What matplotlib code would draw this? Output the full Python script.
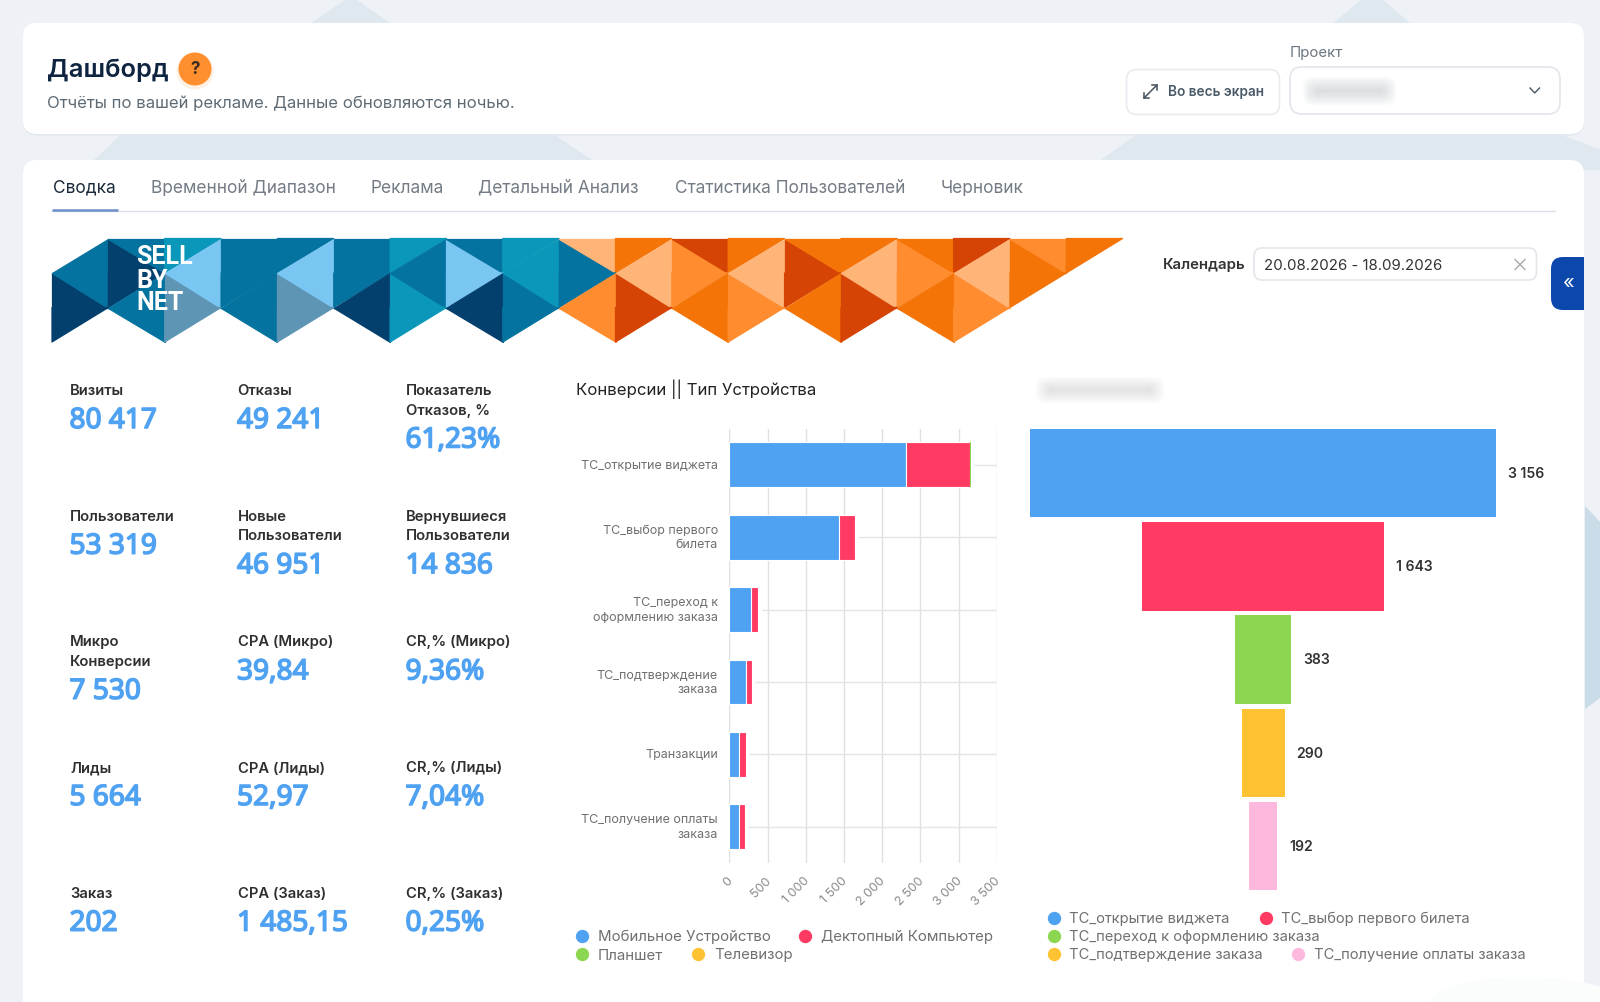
import numpy as np
import matplotlib
matplotlib.use("Agg")
import matplotlib.pyplot as plt
import matplotlib.patheffects as pe
from matplotlib.patches import Circle, Ellipse, FancyBboxPatch, Polygon, Rectangle
from matplotlib.transforms import ScaledTranslation

plt.rcParams['font.family'] = ['Inter', 'Noto Sans', 'DejaVu Sans']

# data
kpi_labels = [
    ["Визиты", "Отказы", "Показатель\nОтказов, %"],
    ["Пользователи", "Новые\nПользователи", "Вернувшиеся\nПользователи"],
    ["Микро\nКонверсии", "CPA (Микро)", "CR,% (Микро)"],
    ["Лиды", "CPA (Лиды)", "CR,% (Лиды)"],
    ["Заказ", "CPA (Заказ)", "CR,% (Заказ)"],
]
kpi_values = [
    ["80 417", "49 241", "61,23%"],
    ["53 319", "46 951", "14 836"],
    ["7 530", "39,84", "9,36%"],
    ["5 664", "52,97", "7,04%"],
    ["202", "1 485,15", "0,25%"],
]
tabs = ["Сводка", "Временной Диапазон", "Реклама", "Детальный Анализ",
        "Статистика Пользователей", "Черновик"]

stages = ["ТС_открытие виджета", "ТС_выбор первого\nбилета", "ТС_переход к\nоформлению заказа",
          "ТС_подтверждение\nзаказа", "Транзакции", "ТС_получение оплаты\nзаказа"]
mobile = [2310, 1431, 288, 214, 127, 127]
desktop = [840, 209, 93, 84, 87, 73]
tablet = [16, 3, 1, 1, 0, 0]
tv = [1, 0, 0, 0, 0, 0]
x_ticks = [0, 500, 1000, 1500, 2000, 2500, 3000, 3500]
x_tick_labels = ["0", "500", "1 000", "1 500", "2 000", "2 500", "3 000", "3 500"]
device_names = ["Мобильное Устройство", "Дектопный Компьютер", "Планшет", "Телевизор"]

funnel_values = [3156, 1643, 383, 290, 192]
funnel_labels = ["3 156", "1 643", "383", "290", "192"]
funnel_names = ["ТС_открытие виджета", "ТС_выбор первого билета", "ТС_переход к оформлению заказа",
                "ТС_подтверждение заказа", "ТС_получение оплаты заказа"]

BLUE = "#4FA1F1"
RED = "#FF3B63"
GREEN = "#8DD651"
YELLOW = "#FFC233"
PINK = "#FDB8DE"
funnel_colors = [BLUE, RED, GREEN, YELLOW, PINK]

# banner: two triangle colours per lattice cell, one list per row
banner_rows = [
    [".M", "DM", "TL", "MM", "ML", "MM", "TM", "LM", "TT", "Mp", "Op", "AR", "Op", "RO", "Op", "AO", "Rp", "OA", "O."],
    ["DM", "DM", "GL", "MM", "GL", "MD", "TM", "LD", "MT", "MA", "Rp", "AO", "Ap", "RO", "Rp", "AO", "Ap", "O.", ".."],
    ["D.", ".M", "G.", ".M", "G.", ".D", "T.", ".D", "M.", ".A", "R.", ".O", "A.", ".O", "R.", ".O", "A.", "..", ".."],
]
banner_colors = {"M": "#05739F", "D": "#03406E", "T": "#0A97B9", "L": "#7AC6F3", "G": "#5E95B5",
                 "O": "#F47407", "p": "#FFB478", "A": "#FF8C2E", "R": "#D54405"}

W, H = 1600, 1002
fig = plt.figure(figsize=(W / 100, H / 100), dpi=100, facecolor="#EEF2F7")
ui = fig.add_axes([0, 0, 1, 1])
ui.set_xlim(0, W)
ui.set_ylim(H, 0)
ui.axis("off")


def txt(x, y, s, px, color="#333333", weight="normal", ha="left", va="center", **kw):
    return ui.text(x, y, s, fontsize=px * 0.72, color=color, fontweight=weight, ha=ha, va=va, **kw)


def box(x0, y0, x1, y1, r, fc="white", ec="none", lw=1.0, z=1, alpha=None):
    p = FancyBboxPatch((x0, y0), x1 - x0, y1 - y0, boxstyle=f"round,pad=0,rounding_size={r}",
                       fc=fc, ec=ec, lw=lw, zorder=z, alpha=alpha)
    ui.add_patch(p)
    return p


def px_axes(x0, y0, x1, y1):
    a = fig.add_axes([x0 / W, 1 - y1 / H, (x1 - x0) / W, (y1 - y0) / H])
    a.patch.set_alpha(0)
    return a


def blur(x0, y0, x1, y1, color):
    # soft smudge for the hidden names
    for i in range(12):
        grow = 8 - i * 1.3
        box(x0 - grow, y0 - grow, x1 + grow, y1 + grow, 9, fc=color, z=3, alpha=0.09)


# background shapes
bg_shape = "#DFE7EF"
ui.add_patch(Polygon([(345, 0), (311, 23), (390, 23), (357, 0)], fc=bg_shape, zorder=0))
ui.add_patch(Polygon([(122, 134), (94, 160), (592, 160), (553, 134)], fc=bg_shape, zorder=0))
ui.add_patch(Polygon([(1361, 0), (1333, 23), (1410, 23), (1383, 0)], fc=bg_shape, zorder=0))
ui.add_patch(Polygon([(1137, 134), (1101, 160), (1600, 170), (1600, 150), (1560, 134)], fc=bg_shape, zorder=0))
ui.add_patch(Polygon([(1585, 506), (1600, 522), (1600, 698), (1585, 709)], fc="#CADCE7", zorder=0))

# cards
for y0, y1 in [(23, 134), (160, 1040)]:
    box(23, y0 + 1.5, 1584, y1 + 1.5, 14, fc="#E3E8EE", z=0.5)
    box(23, y0, 1584, y1, 14, z=1)
ui.add_patch(Ellipse((1525, 1002), 190, 50, fc="#FBFCFC", ec="none", zorder=1.5))

# header
txt(46.5, 70.5, "Дашборд", 25.5, color="#0F2440", weight="semibold")
ui.add_patch(Circle((195, 71), 18.5, fc="#FFE3CB", ec="none", alpha=0.5, zorder=2))
ui.add_patch(Circle((195, 69), 16.5, fc="#FF8F2F", ec="none", zorder=2))
txt(195, 69.5, "?", 17, color="#3A2A20", weight="bold", ha="center", zorder=3)
txt(47, 103, "Отчёты по вашей рекламе. Данные обновляются ночью.", 16.75, color="#5E6B75")

# full screen button and project select
box(1126.5, 69.5, 1279.5, 114.5, 10, ec="#E8ECF0", lw=1.2, z=2)
ui.plot([1144, 1150], [98, 92], color="#44505C", lw=1.1, zorder=3)
ui.plot([1144, 1144, 1149], [93, 98, 98], color="#44505C", lw=1.1, zorder=3)
ui.plot([1151, 1157], [91, 85], color="#44505C", lw=1.1, zorder=3)
ui.plot([1152, 1157, 1157], [85, 85, 90], color="#44505C", lw=1.1, zorder=3)
txt(1168, 91.5, "Во весь экран", 13.6, color="#4A5A68", weight="semibold")
txt(1290, 52.5, "Проект", 15, color="#6B7680")
box(1290, 67, 1560, 114, 12, ec="#E2E6EB", lw=1.2, z=2)
blur(1311, 85, 1388, 97, "#D2D3D8")
ui.plot([1530, 1534.7, 1539.5], [88, 93, 88], color="#4A5560", lw=1, zorder=3)

# tabs
tab_x = [53, 151, 371, 478.5, 675, 940.5]
tab_colors = ["#1A2A3A"] + ["#737B85"] * 5
for name, x, c in zip(tabs, tab_x, tab_colors):
    txt(x, 188, name, 17.3, color=c)
ui.plot([52, 1555], [210.5, 210.5], color="#DDE2EA", lw=1, zorder=2)
ui.plot([52, 118], [210, 210], color="#6C8EC9", lw=1.8, zorder=3, solid_capstyle="butt")

# banner
bx = 52 + 56.35 * np.arange(20)
by = [238.5, 273, 307.5, 342]
for l, row in enumerate(banner_rows):
    for k, cell in enumerate(row):
        left, right = cell
        x0, x1 = bx[k], bx[k + 1]
        y0, y1 = by[l], by[l + 1]
        if (k + l) % 2 == 0:
            tris = [(left, [(x0, y0), (x0, y1), (x1, y0)]), (right, [(x1, y0), (x1, y1), (x0, y1)])]
        else:
            tris = [(left, [(x0, y0), (x0, y1), (x1, y1)]), (right, [(x0, y0), (x1, y0), (x1, y1)])]
        for key, pts in tris:
            if key != ".":
                c = banner_colors[key]
                ui.add_patch(Polygon(pts, fc=c, ec=c, lw=0.9, joinstyle="round", zorder=2))
for s, y in zip(["SELL", "BY", "NET"], [257.5, 280.5, 302.5]):
    ui.text(136.5, y, s, fontsize=25 * 0.72, fontfamily="Roboto", fontweight="bold", color="white",
            ha="left", va="center", zorder=3)

# calendar
txt(1163, 265.5, "Календарь", 15, color="#333333", weight="semibold")
box(1254, 248, 1536.5, 280, 8, ec="#E3E7EC", lw=1.2, z=2)
txt(1264, 265.5, "20.08.2026 - 18.09.2026", 15, color="#333333")
ui.plot([1515, 1525], [259.5, 269.5], color="#AAAAAA", lw=1, zorder=3)
ui.plot([1515, 1525], [269.5, 259.5], color="#AAAAAA", lw=1, zorder=3)
tab = box(1551, 257, 1610, 310, 12, fc="#0C47AB", z=4)
tab.set_clip_path(Rectangle((1540, 250), 44, 70, transform=ui.transData))
txt(1568, 284, "«", 20, color="white", ha="center", zorder=5)

# kpi block
kpi_x = [70, 237.5, 406]
kpi_y = [391, 516.7, 642.3, 768, 893.7]
heavy = [pe.withStroke(linewidth=1.1, foreground=BLUE)]
for r, y in enumerate(kpi_y):
    for c, x in enumerate(kpi_x):
        label = kpi_labels[r][c]
        lines = label.split("\n")
        for i, line in enumerate(lines):
            txt(x, y + i * 19.5, line, 14.8, color="#2F2F2F", weight="semibold")
        txt(x - 0.5, y + 30 + (len(lines) - 1) * 19.5, kpi_values[r][c], 28, color=BLUE,
            fontfamily="Noto Sans", path_effects=heavy)

# stacked bar chart
txt(576, 389.5, "Конверсии || Тип Устройства", 16.8, color="#222222")
ax = px_axes(729.3, 428.5, 996.7, 863)
pos = np.arange(len(stages))
left = np.zeros(len(stages))
for vals, col, lw in [(mobile, BLUE, 0.8), (desktop, RED, 0.8), (tablet, GREEN, 0), (tv, YELLOW, 0)]:
    ax.barh(pos, vals, left=left, height=0.62, color=col, edgecolor="white", linewidth=lw, zorder=3)
    left = left + np.array(vals)
ax.hlines(pos, left + 40, 3500, color="#E4E4E4", lw=1, zorder=1)
ax.set_xlim(0, 3500)
ax.set_ylim(5.5, -0.5)
ax.set_xticks(x_ticks)
ax.set_xticklabels(x_tick_labels, rotation=45, ha="right", rotation_mode="anchor",
                   fontsize=12.5 * 0.72, color="#8A8A8A")
ax.set_yticks(pos)
ax.set_yticklabels(stages, fontsize=12.5 * 0.72, color="#707070", linespacing=1.3, va="center")
ax.tick_params(axis="both", length=0)
ax.tick_params(axis="x", pad=8.5)
ax.tick_params(axis="y", pad=8.3)
shift = ScaledTranslation(-2.5 / 100, 0, fig.dpi_scale_trans)
for lab in ax.get_xticklabels():
    lab.set_transform(lab.get_transform() + shift)
down = ScaledTranslation(0, -1 / 100, fig.dpi_scale_trans)
for lab in ax.get_yticklabels():
    lab.set_transform(lab.get_transform() + down)
ax.grid(axis="x", color="#E0E0E0", lw=1, zorder=0)
ax.set_axisbelow(True)
for sp in ax.spines.values():
    sp.set_visible(False)

dev_colors = [BLUE, RED, GREEN, YELLOW]
dev_marker_x = [582, 805, 582, 698]
dev_y = [935.6, 935.6, 954, 954]
for name, col, mx, my in zip(device_names, dev_colors, dev_marker_x, dev_y):
    ui.scatter([mx], [my], s=92, color=col, linewidths=0, zorder=3)
    txt(mx + 16, my + 1.5, name, 15, color="#707070")

# funnel
blur(1044, 385, 1156, 395, "#DADADA")
fn = px_axes(1030.4, 428.5, 1496, 890.5)
fpos = np.arange(len(funnel_values))
fvals = np.array(funnel_values)
fn.barh(fpos, fvals, left=-fvals / 2, height=0.95, color=funnel_colors)
fn.set_xlim(-1578, 1578)
fn.set_ylim(4.475, -0.475)
fn.axis("off")
for i, (v, s) in enumerate(zip(fvals, funnel_labels)):
    fn.annotate(s, (v / 2, i), xytext=(8.6, -0.7), textcoords="offset points", va="center", ha="left",
                fontsize=14 * 0.72, color="#333333", fontweight="semibold", annotation_clip=False)

fn_marker_x = [1053.8, 1265.8, 1053.8, 1053.8, 1298.3]
fn_y = [917.8, 917.8, 936, 954, 954]
for name, col, mx, my in zip(funnel_names, funnel_colors, fn_marker_x, fn_y):
    ui.scatter([mx], [my], s=92, color=col, linewidths=0, zorder=3)
    txt(mx + 15.5, my + 1.5, name, 14.7, color="#707070")

fig.savefig("out.png", dpi=100, facecolor=fig.get_facecolor())
